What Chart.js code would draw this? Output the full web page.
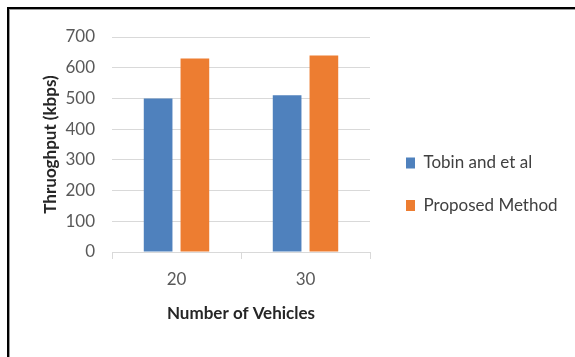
<!DOCTYPE html>
<html>
<head>
<meta charset="utf-8">
<script src="https://cdn.jsdelivr.net/npm/chart.js@4.4.1/dist/chart.umd.min.js"></script>
<style>
  html, body { margin: 0; padding: 0; background: #fff; }
  #wrap { position: relative; width: 575px; height: 357px; overflow: hidden; }
  #marco { position: absolute; left: 7px; top: 7px; width: 600px; height: 400px;
           border-top: 2px solid #000; border-left: 2px solid #000;
           box-shadow: inset 1px 1px 0 #9a9a9a; }
  canvas { position: absolute; left: 0; top: 0; }
</style>
</head>
<body>
<div id="wrap">
  <div id="marco"></div>
  <canvas id="throughput" width="575" height="357"></canvas>
</div>
<script>
// datos
const vehiculos = ["20", "30"];
const tobin = [500, 510];
const propuesto = [630, 640];
const series = ["Tobin and et al", "Proposed Method"];
const ticksY = [0, 100, 200, 300, 400, 500, 600, 700];

const fuente = "Lato, 'DejaVu Sans', sans-serif";

// mueve la leyenda a su sitio
const leyendaPlugin = {
  id: 'leyendaPlugin',
  beforeInit(chart) {
    const fit = chart.legend.fit;
    chart.legend.fit = function () {
      fit.bind(chart.legend)();
      this.width = 205;
    };
  },
  afterLayout(chart) {
    const l = chart.legend;
    const pad = l.options.labels.padding;
    const dx = 406 - (l.left + pad);
    const dy = 163 - (l.top + pad + 8.5);
    l.left += dx; l.right += dx;
    l.top += dy; l.bottom += dy;
  }
};

new Chart(document.getElementById("throughput"), {
  type: 'bar',
  data: {
    labels: vehiculos,
    datasets: [{
        label: series[0],
        data: tobin,
        backgroundColor: "#4f81bd",
        borderWidth: 0
      }, {
        label: series[1],
        data: propuesto,
        backgroundColor: "#ed7d31",
        borderWidth: 0
      }]
  },
  options: {
    responsive: false,
    animation: false,
    layout: {
      padding: { top: 37, left: 0, right: 0, bottom: 0 }
    },
    datasets: {
      bar: { categoryPercentage: 0.57, barPercentage: 0.78 }
    },
    plugins: {
      legend: {
        position: 'right',
        align: 'start',
        labels: {
          boxWidth: 9,
          boxHeight: 11,
          padding: 25.5,
          color: "#404040",
          font: { family: fuente, size: 17 }
        }
      },
      title: { display: false },
      tooltip: { enabled: false }
    },
    scales: {
      x: {
        afterFit(scale) { scale.height = 105; },
        grid: {
          display: true,
          drawOnChartArea: false,
          drawTicks: true,
          tickLength: 7,
          color: "#d9d9d9"
        },
        border: { display: true, color: "#d9d9d9" },
        ticks: {
          padding: 10,
          color: "#595959",
          font: { family: fuente, size: 17 }
        },
        title: {
          display: true,
          text: "Number of Vehicles",
          color: "#262626",
          font: { family: fuente, size: 17, weight: 'bold' },
          padding: { top: 0, bottom: 32.8 }
        }
      },
      y: {
        min: 0,
        max: 700,
        afterFit(scale) { scale.width = 112; },
        afterBuildTicks(scale) {
          scale.ticks = ticksY.map(v => ({ value: v }));
        },
        grid: {
          color: "#d9d9d9",
          drawTicks: false
        },
        border: { display: false },
        ticks: {
          padding: 17,
          color: "#595959",
          font: { family: fuente, size: 17 }
        },
        title: {
          display: true,
          text: "Thruoghput (kbps)",
          color: "#262626",
          font: { family: fuente, size: 17, weight: 'bold' },
          padding: { top: 40.5, bottom: 0 }
        }
      }
    }
  },
  plugins: [leyendaPlugin]
});
</script>
</body>
</html>
